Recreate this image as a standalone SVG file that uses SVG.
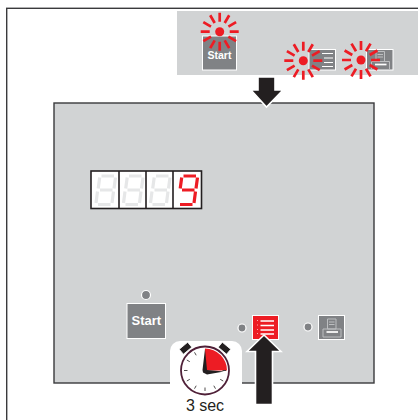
<svg xmlns="http://www.w3.org/2000/svg" width="418" height="420" viewBox="0 0 418 420">
<style>
text{font-family:"Liberation Sans",Arial,sans-serif}
.frame{fill:#fff;stroke:#3a3a3c;stroke-width:1.4}
.btn{fill:#808285;stroke:#fff;stroke-width:1}
.led{fill:#808285;stroke:#fff;stroke-width:1.2}
.seg{fill:none;stroke:#e6e7e8;stroke-width:3.2}
.on{stroke:#ed1c24}
.ray{stroke:#ed1c24;stroke-width:2.7;fill:none}
.arrow{fill:#231f20;stroke:#fff;stroke-width:1.6;stroke-linejoin:miter}
.lbl{font-weight:700;fill:#fff;text-anchor:middle}
.thin{fill:none;stroke:#bcbec0;stroke-width:1}
.wl{stroke:#fff;stroke-width:1.7;fill:none}
</style>
<defs>
<g id="burst">
<circle r="4.500" fill="#ed1c24"/>
<path class="ray" d="M0-10V-19M0 10V19M-10 0H-19M10 0H19M5-8.700 9.500-16.400M-5-8.700-9.500-16.400M5 8.700 9.500 16.400M-5 8.700-9.500 16.400M8.700-5 16.400-9.500M-8.700-5-16.400-9.500M8.700 5 16.400 9.500M-8.700 5-16.400 9.500"/>
</g>
<g id="digit">
<path d="M6.500 1.500H19M4.700 3 3.200 14M20.500 3 19 14M5 15.500H17.500M2.500 17 1 28.500M18.500 17 17 28.500M3 30H15.500"/>
</g>
<g id="printer">
<path class="thin" d="M9.500 4H18V14H9.500ZM11 7H16.500M11 9.500H16.500M5 14H23V22H5Z"/>
<path class="wl" d="M8.500 17H20"/>
</g>
<g id="listlines">
<path class="wl" d="M8 5.500H21.500M8 10H21.500M8 14.500H21.500M8 18.500H21.500"/>
</g>
</defs>
<rect class="frame" x="6.700" y="8.300" width="420" height="420"/>

<g id="top-panel">
<rect x="177" y="11" width="241" height="64" fill="#d1d3d4"/>
</g>
<g id="top-start">
<rect class="btn" x="202.500" y="36" width="34" height="34"/>
<text class="lbl" x="219.500" y="59" font-size="10.500">Start</text>
<use href="#burst" x="219.700" y="31.700"/>
</g>
<g id="top-list">
<rect class="btn" x="309" y="49.500" width="26.500" height="20.500"/>
<path class="wl" d="M322 53.500H333M324 58H333M324 62.500H333M322 66.500H333" style="stroke-width:1"/>
<use href="#burst" x="303.300" y="60.700"/>
</g>
<g id="top-print">
<rect class="btn" x="366.500" y="49.500" width="26.500" height="20.500"/>
<use href="#printer" x="366.500" y="47.500"/>
<use href="#burst" x="361" y="60"/>
</g>

<g id="main-panel">
<rect x="54" y="103" width="320" height="280" fill="#d1d3d4" stroke="#3a3a3c" stroke-width="1.400"/>
</g>

<g id="display">
<rect x="91" y="171" width="110.500" height="37.500" fill="#fff" stroke="#231f20" stroke-width="1.600"/>
<path d="M119 171V208.500M146 171V208.500M173 171V208.500" stroke="#231f20" stroke-width="1.600" fill="none"/>
<use href="#digit" class="seg" x="95" y="174.500"/>
<use href="#digit" class="seg" x="122.500" y="174.500"/>
<use href="#digit" class="seg" x="149.500" y="174.500"/>
<path class="seg on" transform="translate(177 174.500)" d="M6.500 1.500H19M4.700 3 3.200 14M20.500 3 19 14M5 15.500H17.500M18.500 17 17 28.500M3 30H15.500"/>
</g>

<g id="start-button">
<circle class="led" cx="146" cy="295" r="4.500"/>
<rect class="btn" x="127" y="303.500" width="38.500" height="35"/>
<text class="lbl" x="146.300" y="325" font-size="13">Start</text>
</g>
<g id="list-button">
<circle class="led" cx="242" cy="328" r="4"/>
<rect x="252.500" y="315.500" width="26" height="24" fill="#ed1c24" stroke="#fff" stroke-width="1"/>
<use href="#listlines" x="252.500" y="315.500"/>
<path d="M257 320.500h.8M257 325h.8M257 329.500h.8M257 333.500h.8" stroke="#fff" stroke-width=".8" fill="none"/>
</g>
<g id="print-button">
<circle class="led" cx="308" cy="327" r="4"/>
<rect class="btn" x="318.500" y="315.500" width="26" height="24"/>
<use href="#printer" x="318" y="315"/>
</g>

<g id="timer">
<path d="M170 384V351a10 10 0 0 1 10-10h52a10 10 0 0 1 10 10v33z" fill="#fff"/>
<g fill="#231f20" stroke="#fff" stroke-width=".8">
<rect x="180" y="345" width="11" height="6.500" transform="rotate(-40 185.500 348.200)"/>
<rect x="219" y="345" width="11" height="6.500" transform="rotate(40 224.500 348.200)"/>
</g>
<circle cx="205" cy="370.500" r="24" fill="#fff" stroke="#4f2038" stroke-width="1.800"/>
<path d="M205 370.500V348.500A22 22 0 0 1 227 370.500Z" fill="#ed1c24"/>
<path d="M205 349 207 370 224 371.500 207 374.500 203 372.500 202.500 370Z" fill="#231f20"/>
<path d="M205 391v-3.500M184 370.500h3.500M226 370.500h-3.500M194.500 352.300l1.700 3M215.500 388.700l-1.700-3M186.800 360l3 1.700M223.200 381l-3-1.700M186.800 381l3-1.700M194.500 388.700l1.700-3" stroke="#231f20" stroke-width=".8" fill="none"/>
<text x="205" y="411" font-size="16" text-anchor="middle" fill="#231f20">3 sec</text>
</g>

<g id="connectors">
<path class="arrow" d="M258 77H275V90H283L266.500 107 251 90H258Z"/>
<path class="arrow" d="M264 335 281 351.500H272.500V404.500H255.500V351.500H247Z"/>
</g>
</svg>
